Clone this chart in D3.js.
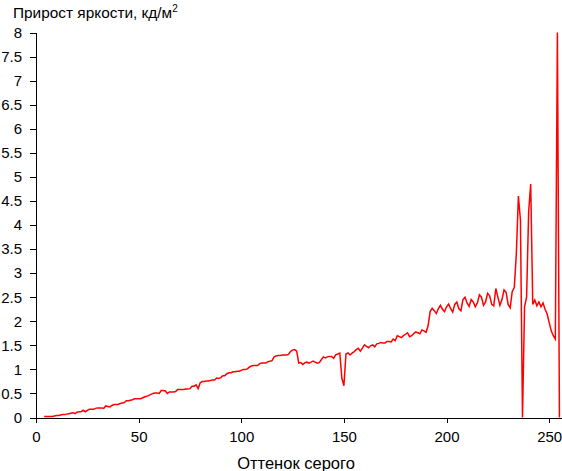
<!DOCTYPE html>
<html>
<head>
<meta charset="utf-8">
<script src="https://cdn.jsdelivr.net/npm/d3@7"></script>
<style>
  body { margin: 0; background: #fff; }
  #chart svg { display: block; }
  .axis text { font-family: "Liberation Sans", Arial, sans-serif; font-size: 15px; fill: #000; }
  .axis path, .axis line { stroke: #000; stroke-width: 1; shape-rendering: crispEdges; }
  .title { font-family: "Liberation Sans", Arial, sans-serif; font-size: 15.4px; fill: #000; }
  .line { fill: none; stroke: #ff0000; stroke-width: 1.5; stroke-linejoin: miter; }
</style>
</head>
<body>
<div id="chart"></div>
<script>
// gray level (x) and brightness increment, cd/m2 (y)
const grayLevels = [
  4, 5, 6, 7, 8, 9, 10, 11, 12, 13,
  14, 15, 16, 17, 18, 19, 20, 21, 22, 23,
  24, 25, 26, 27, 28, 29, 30, 31, 32, 33,
  34, 35, 36, 37, 38, 39, 40, 41, 42, 43,
  44, 45, 46, 47, 48, 49, 50, 51, 52, 53,
  54, 55, 56, 57, 58, 59, 60, 61, 62, 63,
  64, 65, 66, 67, 68, 69, 70, 71, 72, 73,
  74, 75, 76, 77, 78, 79, 80, 81, 82, 83,
  84, 85, 86, 87, 88, 89, 90, 91, 92, 93,
  94, 95, 96, 97, 98, 99, 100, 101, 102, 103,
  104, 105, 106, 107, 108, 109, 110, 111, 112, 113,
  114, 115, 116, 117, 118, 119, 120, 121, 122, 123,
  124, 125, 126, 127, 128, 129, 130, 131, 132, 133,
  134, 135, 136, 137, 138, 139, 140, 141, 142, 143,
  144, 145, 146, 147, 148, 149, 150, 151, 152, 153,
  154, 155, 156, 157, 158, 159, 160, 161, 162, 163,
  164, 165, 166, 167, 168, 169, 170, 171, 172, 173,
  174, 175, 176, 177, 178, 179, 180, 181, 182, 183,
  184, 185, 186, 187, 188, 189, 190, 191, 192, 193,
  194, 195, 196, 197, 198, 199, 200, 201, 202, 203,
  204, 205, 206, 207, 208, 209, 210, 211, 212, 213,
  214, 215, 216, 217, 218, 219, 220, 221, 222, 223,
  224, 225, 226, 227, 228, 229, 230, 231, 232, 233,
  234, 235, 236, 237, 238, 239, 240, 241, 242, 243,
  244, 245, 246, 247, 248, 249, 250, 251, 252, 253,
  254, 255
];

const brightnessGain = [
  0.02, 0.02, 0.02, 0.02, 0.02, 0.03, 0.04, 0.04, 0.05, 0.06,
  0.06, 0.07, 0.08, 0.09, 0.10, 0.08, 0.11, 0.12, 0.12, 0.15,
  0.12, 0.15, 0.17, 0.17, 0.17, 0.19, 0.20, 0.20, 0.20, 0.19,
  0.24, 0.23, 0.22, 0.25, 0.27, 0.27, 0.27, 0.29, 0.30, 0.31,
  0.35, 0.35, 0.36, 0.37, 0.39, 0.39, 0.39, 0.39, 0.41, 0.43,
  0.44, 0.46, 0.48, 0.50, 0.51, 0.51, 0.50, 0.56, 0.56, 0.55,
  0.50, 0.53, 0.53, 0.53, 0.54, 0.58, 0.58, 0.58, 0.58, 0.59,
  0.59, 0.60, 0.65, 0.65, 0.68, 0.60, 0.72, 0.75, 0.75, 0.76,
  0.76, 0.77, 0.78, 0.78, 0.82, 0.81, 0.83, 0.87, 0.87, 0.91,
  0.93, 0.93, 0.95, 0.95, 0.96, 0.96, 0.98, 1.00, 1.00, 1.01,
  1.05, 1.07, 1.08, 1.08, 1.08, 1.12, 1.13, 1.13, 1.13, 1.16,
  1.17, 1.18, 1.26, 1.28, 1.29, 1.29, 1.30, 1.30, 1.30, 1.31,
  1.37, 1.40, 1.41, 1.38, 1.13, 1.14, 1.10, 1.14, 1.15, 1.13,
  1.15, 1.17, 1.15, 1.13, 1.14, 1.20, 1.26, 1.24, 1.26, 1.27,
  1.27, 1.23, 1.30, 1.32, 1.34, 0.82, 0.66, 1.32, 1.34, 1.30,
  1.34, 1.37, 1.41, 1.44, 1.38, 1.44, 1.51, 1.48, 1.45, 1.49,
  1.51, 1.47, 1.53, 1.54, 1.56, 1.55, 1.55, 1.58, 1.58, 1.57,
  1.63, 1.60, 1.70, 1.68, 1.66, 1.70, 1.73, 1.76, 1.68, 1.70,
  1.74, 1.78, 1.76, 1.74, 1.82, 1.80, 1.77, 1.90, 2.20, 2.27,
  2.22, 2.16, 2.26, 2.33, 2.25, 2.20, 2.30, 2.36, 2.26, 2.19,
  2.35, 2.40, 2.26, 2.22, 2.45, 2.50, 2.38, 2.31, 2.45, 2.40,
  2.30, 2.38, 2.55, 2.50, 2.33, 2.40, 2.58, 2.53, 2.35, 2.32,
  2.68, 2.50, 2.33, 2.45, 2.65, 2.60, 2.35, 2.28, 2.62, 2.70,
  3.40, 4.60, 4.10, 0.00, 2.30, 2.50, 4.28, 4.85, 2.35, 2.44,
  2.32, 2.40, 2.30, 2.38, 2.25, 2.15, 1.97, 1.80, 1.70, 1.63,
  8.00, 0.00
];

const xTicks = [0, 50, 100, 150, 200, 250];
const yTicks = [0, 0.5, 1, 1.5, 2, 2.5, 3, 3.5, 4, 4.5, 5, 5.5, 6, 6.5, 7, 7.5, 8];

const titleText = 'Прирост яркости, кд/м';
const xLabelText = 'Оттенок серого';

const width = 562,
      height = 471;

let xScale, yScale, line;

function init() {
  const data = grayLevels.map((g, i) => ({ level: g, value: brightnessGain[i] }));

  xScale = d3.scaleLinear()
    .domain([0, 256])
    .range([36, 561.5]);

  yScale = d3.scaleLinear()
    .domain([0, 8])
    .range([417.5, 32.5]);

  line = d3.line()
    .x(d => xScale(d.level))
    .y(d => yScale(d.value));

  const $svg = d3.select('#chart').append('svg')
    .attr('width', width)
    .attr('height', height);

  // title with superscript
  const $title = $svg.append('text')
    .classed('title', true)
    .attr('x', 13)
    .attr('y', 18)
    .text(titleText);
  $title.append('tspan')
    .attr('dy', -6)
    .style('font-size', '10px')
    .text('2');

  const xAxis = d3.axisBottom(xScale)
    .tickValues(xTicks)
    .tickSize(5)
    .tickSizeOuter(0)
    .tickPadding(9)
    .tickFormat(d3.format('d'));

  const yAxis = d3.axisLeft(yScale)
    .tickValues(yTicks)
    .tickSize(6)
    .tickSizeOuter(0)
    .tickPadding(8)
    .tickFormat(t => String(t));

  $svg.append('g')
    .classed('x axis', true)
    .attr('transform', `translate(0, ${yScale(0)})`)
    .call(xAxis);

  $svg.append('g')
    .classed('y axis', true)
    .attr('transform', `translate(${xScale(0)}, 0)`)
    .call(yAxis);

  // line drawn after the axes so it covers them where it touches zero
  $svg.append('path')
    .datum(data)
    .classed('line', true)
    .attr('d', line);

  $svg.append('text')
    .classed('title', true)
    .attr('x', 296)
    .attr('y', 469)
    .attr('text-anchor', 'middle')
    .style('font-size', '16.5px')
    .text(xLabelText);
}

init();
</script>
</body>
</html>
